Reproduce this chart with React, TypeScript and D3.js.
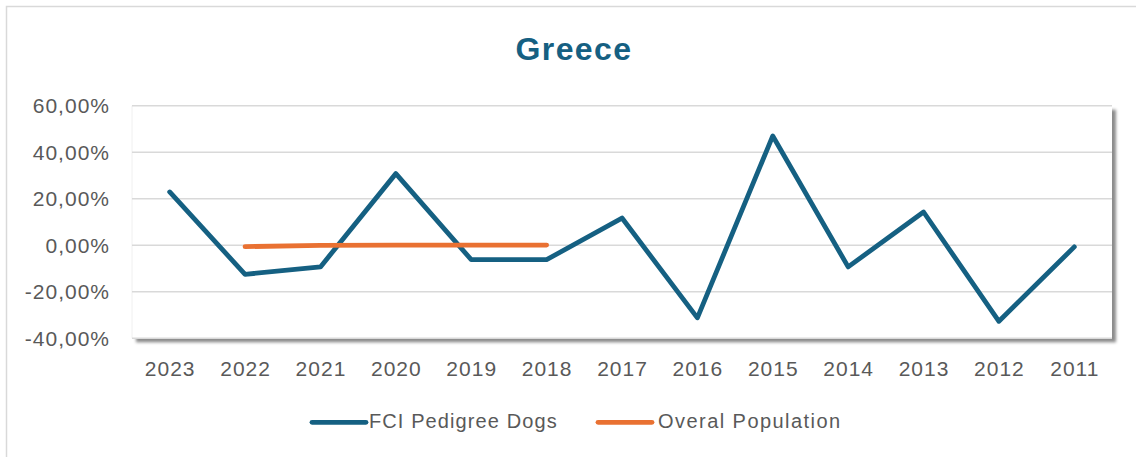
import React from "react";
import * as d3 from "d3";

const years = ["2023", "2022", "2021", "2020", "2019", "2018", "2017", "2016", "2015", "2014", "2013", "2012", "2011"];
const fciValues: (number | null)[] = [22.9, -12.5, -9.3, 30.8, -6.2, -6.2, 11.7, -31.2, 47.0, -9.3, 14.3, -32.7, -0.7];
const populationValues: (number | null)[] = [null, -0.6, -0.05, 0.05, 0.1, 0.1, null, null, null, null, null, null, null];
const yTicks = [-40, -20, 0, 20, 40, 60];
const seriesNames = ["FCI Pedigree Dogs", "Overal Population"];
const seriesColors = ["#156082", "#E97132"];

const W = 1136;
const H = 457;
const plot = { left: 132, right: 1112, top: 105.7, bottom: 338.3 };

export default function App() {
  const x = d3.scaleBand<string>().domain(years).range([plot.left, plot.right]).padding(0);
  const y = d3.scaleLinear().domain([-40, 60]).range([plot.bottom, plot.top]);
  const cx = (yr: string) => (x(yr) as number) + x.bandwidth() / 2;

  const line = d3
    .line<{ yr: string; v: number | null }>()
    .defined((d) => d.v !== null)
    .x((d) => cx(d.yr))
    .y((d) => y(d.v as number));

  const fciData = years.map((yr, i) => ({ yr, v: fciValues[i] }));
  const popData = years.map((yr, i) => ({ yr, v: populationValues[i] }));

  const fmt = (v: number) => v.toFixed(2).replace(".", ",") + "%";

  const legend = [
    { lx1: 312, lx2: 366, tx: 369, name: seriesNames[0], color: seriesColors[0], ls: 1.1 },
    { lx1: 598, lx2: 652, tx: 658, name: seriesNames[1], color: seriesColors[1], ls: 1.45 },
  ];

  return (
    <svg
      width={W}
      height={H}
      style={{ position: "absolute", left: 0, top: 0, background: "#fff" }}
      fontFamily="'Liberation Sans', Arial, sans-serif"
    >
      <defs>
        <filter id="shadow" x="-5%" y="-10%" width="110%" height="125%">
          <feDropShadow dx="4" dy="4" stdDeviation="1.8" floodColor="#000" floodOpacity="0.45" />
        </filter>
      </defs>
      <rect x={0} y={0} width={W} height={H} fill="#fff" />
      <rect x={6.5} y={6.5} width={W + 10} height={H + 10} fill="#fff" stroke="#d9d9d9" strokeWidth={1.5} />

      <text
        x={574}
        y={59.5}
        textAnchor="middle"
        fontSize={32}
        fontWeight="bold"
        letterSpacing={1.4}
        fill="#156082"
      >
        Greece
      </text>

      <rect
        x={plot.left}
        y={plot.top}
        width={plot.right - plot.left}
        height={plot.bottom - plot.top}
        fill="#fff"
        filter="url(#shadow)"
      />
      <line x1={plot.left} x2={plot.left} y1={plot.top} y2={plot.bottom} stroke="#f0f0f0" strokeWidth={1} />

      {yTicks.map((t) => (
        <g key={t}>
          <line x1={plot.left} x2={plot.right} y1={y(t)} y2={y(t)} stroke="#d9d9d9" strokeWidth={1.5} />
          <text x={110} y={y(t)} dy="0.36em" textAnchor="end" fontSize={21} letterSpacing={1} fill="#595959">
            {fmt(t)}
          </text>
        </g>
      ))}

      {years.map((yr) => (
        <text key={yr} x={cx(yr) + 0.5} y={376} textAnchor="middle" fontSize={21} letterSpacing={1} fill="#595959">
          {yr}
        </text>
      ))}

      <path
        d={line(fciData) || ""}
        fill="none"
        stroke={seriesColors[0]}
        strokeWidth={4.8}
        strokeLinejoin="round"
        strokeLinecap="round"
      />
      <path
        d={line(popData) || ""}
        fill="none"
        stroke={seriesColors[1]}
        strokeWidth={4.8}
        strokeLinejoin="round"
        strokeLinecap="round"
      />

      {legend.map((l) => (
        <g key={l.name}>
          <line x1={l.lx1} x2={l.lx2} y1={422.3} y2={422.3} stroke={l.color} strokeWidth={4.8} strokeLinecap="round" />
          <text x={l.tx} y={427.5} fontSize={20} letterSpacing={l.ls} fill="#595959">
            {l.name}
          </text>
        </g>
      ))}
    </svg>
  );
}
